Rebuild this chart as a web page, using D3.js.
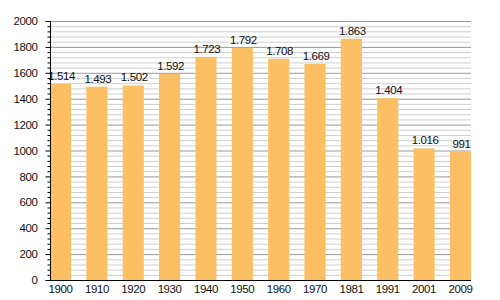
<!DOCTYPE html>
<html lang="de">
<head>
  <meta charset="UTF-8" />
  <title>Einwohnerentwicklung</title>
  <script src="https://d3js.org/d3.v7.min.js"></script>
  <style>
    body { margin: 0; background: white; }
    svg { display: block; font-family: "Liberation Sans", Arial, sans-serif; }
    text { letter-spacing: -0.4px; }
  </style>
</head>
<body>
<svg width="500" height="300"></svg>
<script>
const years = ["1900", "1910", "1920", "1930", "1940", "1950", "1960", "1970", "1981", "1991", "2001", "2009"];
const population = [1514, 1493, 1502, 1592, 1723, 1792, 1708, 1669, 1863, 1404, 1016, 991];
const yTicks = [0, 200, 400, 600, 800, 1000, 1200, 1400, 1600, 1800, 2000];

const svg = d3.select("svg");
const margin = { top: 21, right: 29, bottom: 20, left: 50 };
const width = 500 - margin.left - margin.right;
const height = 300 - margin.top - margin.bottom;
const g = svg.append("g").attr("transform", `translate(${margin.left},${margin.top})`);

const x = d3.scaleBand().domain(years).range([0, width]).paddingInner(0.42).paddingOuter(0);
const y = d3.scaleLinear().domain([0, 2000]).range([height, 0]);

// minor grid every 40
const minor = d3.range(0, 2001, 40).filter(v => v % 200 !== 0);
g.selectAll("line.minor").data(minor).join("line")
  .attr("x1", 0).attr("x2", width)
  .attr("y1", d => y(d) + 0.5).attr("y2", d => y(d) + 0.5)
  .attr("stroke", "#cfcfcf").attr("stroke-width", 1);
g.selectAll("line.major").data(yTicks.filter(v => v > 0)).join("line")
  .attr("x1", 0).attr("x2", width)
  .attr("y1", d => y(d) + 0.5).attr("y2", d => y(d) + 0.5)
  .attr("stroke", "#999").attr("stroke-width", 1);

g.selectAll("rect").data(population).join("rect")
  .attr("x", (d, i) => x(years[i]))
  .attr("y", d => y(d))
  .attr("width", x.bandwidth())
  .attr("height", d => height - y(d))
  .attr("fill", "#fdbf63");

g.selectAll("text.val").data(population).join("text")
  .attr("class", "val")
  .attr("x", (d, i) => x(years[i]) + x.bandwidth() / 2 + 1)
  .attr("y", d => y(d) - 4)
  .attr("text-anchor", "middle")
  .attr("font-size", 11.5)
  .attr("fill", "#111")
  .text(d => d3.format(",")(d).replace(",", "."));

// y axis: major and minor ticks
const yAxis = g.append("g").attr("transform", "translate(0.5,0)");
yAxis.call(d3.axisLeft(y).tickValues(yTicks).tickSize(5).tickPadding(8).tickFormat(d3.format("d")));
yAxis.append("g").selectAll("line").data(minor).join("line")
  .attr("x1", -3).attr("x2", 0)
  .attr("y1", d => y(d) + 0.5).attr("y2", d => y(d) + 0.5)
  .attr("stroke", "#000");
yAxis.selectAll("text").attr("font-size", 11.5).attr("font-family", "Liberation Sans, Arial, sans-serif").attr("fill", "#111");
yAxis.select(".domain").attr("d", `M0,0V${height}`).attr("stroke", "#000");

const xAxis = g.append("g").attr("transform", `translate(0,${height + 0.5})`);
xAxis.call(d3.axisBottom(x).tickSize(0).tickPadding(4));
xAxis.select(".domain").attr("d", `M0,0H${width}`).attr("stroke", "#000");
xAxis.selectAll("text").attr("font-size", 11.5).attr("font-family", "Liberation Sans, Arial, sans-serif").attr("fill", "#111");
</script>
</body>
</html>
